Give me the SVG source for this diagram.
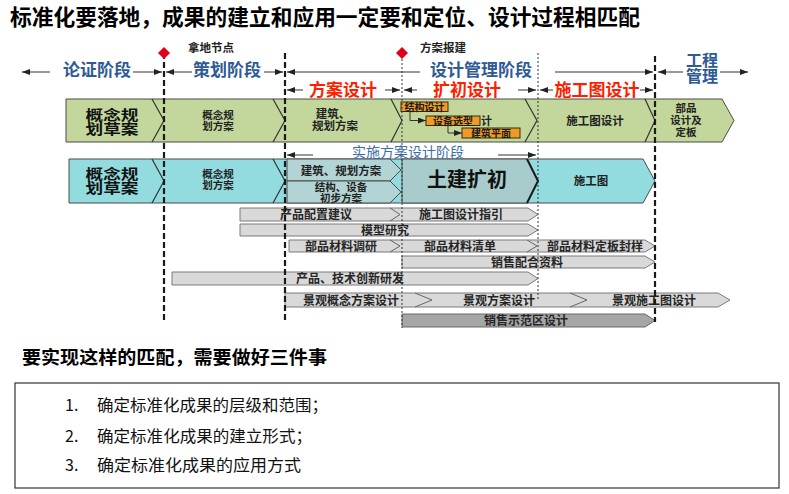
<svg xmlns="http://www.w3.org/2000/svg" width="789" height="494" viewBox="0 0 789 494">
<style>
text{font-family:"Noto Sans CJK SC","Noto Sans",sans-serif;}
.title{font-size:22px;font-weight:bold;fill:#000;}
.phase{font-size:17px;font-weight:bold;fill:#2E5A96;text-anchor:middle;}
.red{font-size:17px;font-weight:bold;fill:#FF1E00;text-anchor:middle;}
.big{font-size:14px;font-weight:bold;fill:#111;text-anchor:middle;}
.sm{font-size:10.5px;font-weight:bold;fill:#222;text-anchor:middle;}
.md{font-size:11.5px;font-weight:bold;fill:#222;text-anchor:middle;}
.bar{font-size:12px;font-weight:bold;fill:#262626;text-anchor:middle;}
.note{font-size:11px;font-weight:bold;fill:#222;}
.green{fill:#C3D69B;stroke:#4a4a4a;stroke-width:1;}
.cyan{fill:#92DCDF;stroke:#4a4a4a;stroke-width:1;}
.teal{fill:#B3D4D4;stroke:#4a4a4a;stroke-width:1;}
.teal2{fill:#A8CCCC;stroke:#4a4a4a;stroke-width:1;}
.gray{fill:#D9D9D9;stroke:#7a7a7a;stroke-width:1;}
.dgray{fill:#A6A6A6;stroke:#6a6a6a;stroke-width:1;}
.sep{fill:none;stroke:#333;stroke-width:1.2;}
.gsep{fill:none;stroke:#666;stroke-width:1;}
.orange{fill:#EE9B28;stroke:#3a2a10;stroke-width:1;}
.otxt{font-size:10px;font-weight:bold;fill:#1a1a1a;text-anchor:middle;}
.arr{stroke:#333;stroke-width:1;fill:none;marker-end:url(#ah);}
.dash{stroke:#1a1a1a;stroke-width:2.2;stroke-dasharray:6,3;fill:none;}
.dot{stroke:#333;stroke-width:1;stroke-dasharray:2,2;fill:none;}
.dia{fill:#E0001B;}
.item{font-size:16px;fill:#111;}
</style>
<defs>
<marker id="ah" markerUnits="userSpaceOnUse" markerWidth="8" markerHeight="6" refX="8" refY="3" orient="auto">
<path d="M0,0 L8,3 L0,6 z" fill="#222"/>
</marker>
</defs>
<rect width="789" height="494" fill="#fff"/>

<g id="title">
<text class="title" x="10" y="25" textLength="630" lengthAdjust="spacingAndGlyphs">标准化要落地，成果的建立和应用一定要和定位、设计过程相匹配</text>
</g>

<g id="row-green">
<polygon class="green" points="66,99 722,99 734,120.5 722,142 66,142"/>
<polyline class="sep" points="152,99 164,120.5 152,142"/>
<polyline class="sep" points="273,99 285,120.5 273,142"/>
<polyline class="sep" points="391,99 402,120.5 391,142"/>
<polyline class="sep" points="525,99 537,120.5 525,142"/>
<polyline class="sep" points="645,99 655,120.5 645,142"/>
<text class="big"><tspan x="112" y="119.5" textLength="53" lengthAdjust="spacingAndGlyphs">概念规</tspan><tspan x="112" y="134" textLength="53" lengthAdjust="spacingAndGlyphs">划草案</tspan></text>
<text class="sm"><tspan x="218" y="119">概念规</tspan><tspan x="218" y="130">划方案</tspan></text>
<text class="md"><tspan x="333" y="118">建筑、</tspan><tspan x="335" y="130">规划方案</tspan></text>
<text class="md" x="595" y="125">施工图设计</text>
<text class="sm"><tspan x="686" y="112">部品</tspan><tspan x="686" y="124">设计及</tspan><tspan x="686" y="136">定板</tspan></text>
</g>

<g id="orange-boxes">
<rect class="orange" x="401" y="102" width="47" height="9.5"/>
<text class="otxt" x="424.5" y="110.5">结构设计</text>
<rect class="orange" x="426" y="116" width="54" height="9.5"/>
<text class="otxt" x="453" y="124.5">设备选型</text>
<text class="note" x="481" y="125">计</text>
<rect class="orange" x="462" y="128" width="58" height="10"/>
<text class="otxt" x="491" y="137">建筑平面</text>
</g>

<g id="row-cyan">
<polygon class="cyan" points="69,159 643,159 655,181 643,203 69,203"/>
<polyline class="sep" points="152,159 164,181 152,203"/>
<polyline class="sep" points="273,159 285,181 273,203"/>
<polygon class="teal" points="287,159 390,159 401,170 390,181 287,181"/>
<polygon class="teal" points="287,181 390,181 401,192 390,203 287,203"/>
<polygon class="teal2" points="402,159 527,159 538,181 527,203 402,203"/>
<polyline fill="none" stroke="#1a1a1a" stroke-width="2" points="527,159 538,181 527,203"/>
<text class="big"><tspan x="112" y="178.5" textLength="53" lengthAdjust="spacingAndGlyphs">概念规</tspan><tspan x="112" y="193" textLength="53" lengthAdjust="spacingAndGlyphs">划草案</tspan></text>
<text class="sm"><tspan x="218" y="178">概念规</tspan><tspan x="218" y="189">划方案</tspan></text>
<text class="md" x="341" y="174.5">建筑、规划方案</text>
<text class="sm"><tspan x="341" y="191">结构、设备</tspan><tspan x="341" y="201.5">初步方案</tspan></text>
<text x="467" y="187" font-size="20" font-weight="bold" fill="#111" text-anchor="middle">土建扩初</text>
<text class="md" x="591" y="184.5">施工图</text>
</g>

<g id="bar-a">
<polygon class="gray" points="240,208 528,208 538,214.5 528,221 240,221"/>
<polyline class="gsep" points="390,208 400,214.5 390,221"/>
<text class="bar" x="316" y="219">产品配置建议</text>
<text class="bar" x="461" y="219">施工图设计指引</text>
</g>
<g id="bar-b">
<polygon class="gray" points="240,224 528,224 538,230 528,236 240,236"/>
<text class="bar" x="385" y="234.5">模型研究</text>
</g>
<g id="bar-c">
<polygon class="gray" points="289,240 645,240 655,246 645,252 289,252"/>
<polyline class="gsep" points="390,240 400,246 390,252"/>
<polyline class="gsep" points="527,240 537,246 527,252"/>
<text class="bar" x="341" y="250.5">部品材料调研</text>
<text class="bar" x="460" y="250.5">部品材料清单</text>
<text class="bar" x="595" y="250.5">部品材料定板封样</text>
</g>
<g id="bar-d">
<polygon class="gray" points="402,256 645,256 655,262 645,268 402,268"/>
<text class="bar" x="527" y="266.5">销售配合资料</text>
</g>
<g id="bar-e">
<polygon class="gray" points="172,272 528,272 538,278.5 528,285 172,285"/>
<text class="bar" x="350" y="283">产品、技术创新研发</text>
</g>
<g id="bar-f">
<polygon class="gray" points="285,293 718,293 730,300 718,307 285,307"/>
<polyline class="gsep" points="415,293 432,300 415,307"/>
<polyline class="gsep" points="570,293 587,300 570,307"/>
<text class="bar" x="351" y="304.5">景观概念方案设计</text>
<text class="bar" x="499" y="304.5">景观方案设计</text>
<text class="bar" x="654" y="304.5">景观施工图设计</text>
</g>
<g id="bar-g">
<polygon class="dgray" points="402,314 645,314 655,320.5 645,327 402,327"/>
<text class="bar" x="526" y="325">销售示范区设计</text>
</g>

<g id="connectors">
<line class="dash" x1="164" y1="53" x2="164" y2="322"/>
<line class="dash" x1="285" y1="53" x2="285" y2="322"/>
<line class="dash" x1="655" y1="56" x2="655" y2="322"/>
<line class="dot" x1="402" y1="55" x2="402" y2="328"/>
<line class="dot" x1="538" y1="53" x2="538" y2="300"/>
<line class="arr" x1="50" y1="72" x2="22" y2="72"/>
<line class="arr" x1="133" y1="72" x2="162" y2="72"/>
<line class="arr" x1="192" y1="72" x2="166" y2="72"/>
<line class="arr" x1="264" y1="72" x2="283" y2="72"/>
<line class="arr" x1="420" y1="72" x2="287" y2="72"/>
<line class="arr" x1="555" y1="72" x2="653" y2="72"/>
<line class="arr" x1="683" y1="72" x2="658" y2="72"/>
<line class="arr" x1="720" y1="72" x2="748" y2="72"/>
<line class="arr" x1="303" y1="90" x2="287" y2="90"/>
<line class="arr" x1="385" y1="90" x2="400" y2="90"/>
<line class="arr" x1="417" y1="90" x2="404" y2="90"/>
<line class="arr" x1="518" y1="90" x2="536" y2="90"/>
<line class="arr" x1="553" y1="90" x2="540" y2="90"/>
<line class="arr" x1="640" y1="90" x2="653" y2="90"/>
<line class="arr" x1="313" y1="155" x2="287" y2="155"/>
<line class="arr" x1="498" y1="155" x2="536" y2="155"/>
<polyline class="arr" points="410,111.5 410,120.5 426,120.5"/>
<polyline class="arr" points="448,125.5 448,133 462,133"/>
</g>

<g id="milestones">
<polygon class="dia" points="164,47 170,53 164,59 158,53"/>
<text class="md" x="211" y="51.5">拿地节点</text>
<polygon class="dia" points="402,47 408,53 402,59 396,53"/>
<text class="md" x="443" y="51.5">方案报建</text>
</g>

<g id="phases">
<text class="phase" x="97" y="76">论证阶段</text>
<text class="phase" x="227" y="76">策划阶段</text>
<text class="phase" x="481" y="76">设计管理阶段</text>
<text class="phase" style="font-size:16px"><tspan x="702" y="66">工程</tspan><tspan x="702" y="82">管理</tspan></text>
<text class="red" x="343" y="96">方案设计</text>
<text class="red" x="467" y="96">扩初设计</text>
<text class="red" x="597" y="96">施工图设计</text>
<text x="408" y="157" font-size="14" fill="#3B6EA8" text-anchor="middle">实施方案设计阶段</text>
</g>

<g id="summary">
<text x="22" y="364" font-size="18.5" font-weight="bold" fill="#000" textLength="305" lengthAdjust="spacingAndGlyphs">要实现这样的匹配，需要做好三件事</text>
<rect x="15" y="383" width="764" height="105" fill="#fff" stroke="#333" stroke-width="1.2"/>
<text class="item" x="65" y="411">1.</text>
<text class="item" x="97" y="411" textLength="231" lengthAdjust="spacingAndGlyphs">确定标准化成果的层级和范围；</text>
<text class="item" x="65" y="442">2.</text>
<text class="item" x="97" y="442" textLength="215" lengthAdjust="spacingAndGlyphs">确定标准化成果的建立形式；</text>
<text class="item" x="65" y="471">3.</text>
<text class="item" x="97" y="471" textLength="204" lengthAdjust="spacingAndGlyphs">确定标准化成果的应用方式</text>
</g>
</svg>
